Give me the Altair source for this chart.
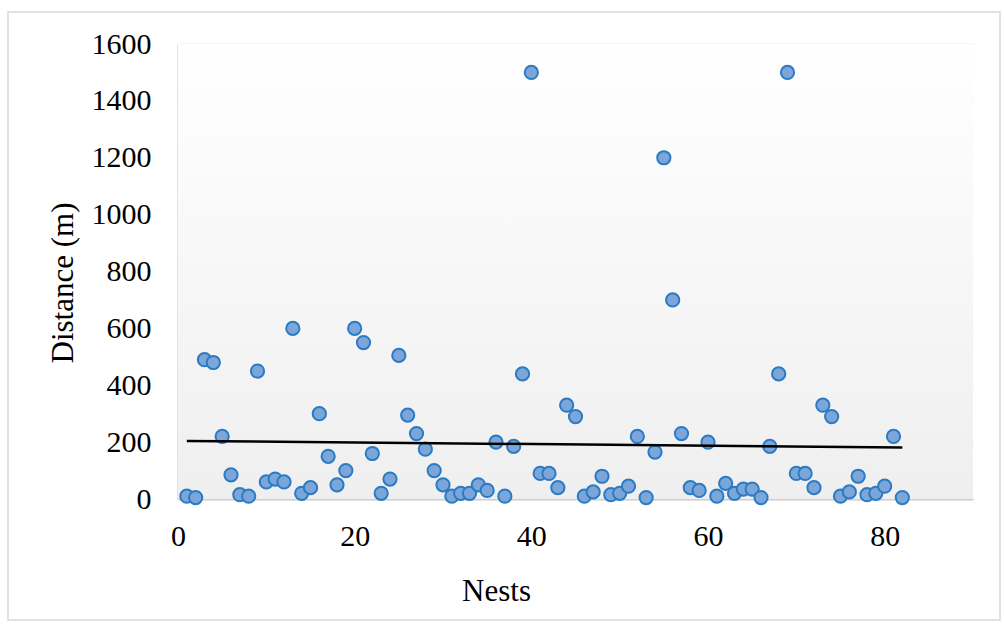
import altair as alt
import pandas as pd

nests = list(range(1, 83))
distance = [
    10, 5, 490, 480, 220, 85, 15, 10, 450, 60,
    70, 60, 600, 20, 40, 300, 150, 50, 100, 600,
    550, 160, 20, 70, 505, 295, 230, 175, 100, 50,
    10, 20, 20, 50, 30, 200, 10, 185, 440, 1500,
    90, 90, 40, 330, 290, 10, 25, 80, 15, 20,
    45, 220, 5, 165, 1200, 700, 230, 40, 30, 200,
    10, 55, 20, 35, 35, 5, 185, 440, 1500, 90,
    90, 40, 330, 290, 10, 25, 80, 15, 20, 45,
    220, 5,
]
x_ticks = [0, 20, 40, 60, 80]
y_ticks = [0, 200, 400, 600, 800, 1000, 1200, 1400, 1600]

df = pd.DataFrame({"Nests": nests, "Distance": distance})

W, H = 795, 455
FONT = "Liberation Serif"

xs = alt.X("Nests:Q", scale=alt.Scale(domain=[0, 90], nice=False),
           axis=alt.Axis(values=x_ticks, title="Nests", grid=True, format="d",
                         labelFlush=False, titleX=318))
ys = alt.Y("Distance:Q", scale=alt.Scale(domain=[0, 1600], nice=False),
           axis=alt.Axis(values=y_ticks, title="Distance (m)", grid=True, format="d",
                         labelFlush=False, titleY=H / 2 + 11))

bg = alt.Chart(pd.DataFrame({"a": [0]})).mark_rect(
    fill=alt.Gradient(gradient="linear", x1=0, x2=0, y1=0, y2=1,
                      stops=[alt.GradientStop(color="#ffffff", offset=0),
                             alt.GradientStop(color="#efefef", offset=1)])
).encode(x=alt.value(0), x2=alt.value(W), y=alt.value(0), y2=alt.value(H))

border = alt.Chart(pd.DataFrame({"a": [0]})).mark_rect(
    fill=None, stroke="#d9d9d9", strokeWidth=1.5
).encode(x=alt.value(-170), x2=alt.value(W + 27), y=alt.value(-32), y2=alt.value(H + 121))

points = alt.Chart(df).mark_point(
    filled=True, shape="circle", size=175, fill="#7ca6da", stroke="#2a7bc3",
    strokeWidth=2, opacity=1, fillOpacity=1
).encode(x=xs, y=ys)

trend = alt.Chart(df).transform_regression(
    "Nests", "Distance", extent=[1, 82]
).mark_line(color="#000000", strokeWidth=2.5).encode(x=xs, y=ys)

chart = alt.layer(bg, border, points, trend).properties(
    width=W, height=H,
    autosize=alt.AutoSizeParams(type="none"),
    padding={"left": 178, "top": 44, "right": 31, "bottom": 125},
    background="#ffffff",
).configure_view(stroke=None).configure_axis(
    labelFont=FONT, titleFont=FONT, labelFontSize=30, titleFontSize=31,
    labelColor="#000000", titleColor="#000000", titleFontWeight="normal",
    gridColor="#d9d9d9", gridWidth=1.5, domainColor="#cfcfcf", domainWidth=2,
    ticks=False,
).configure_axisX(labelPadding=22, titlePadding=25).configure_axisY(
    labelPadding=27, titlePadding=12, domain=True)

chart.save("out.html", embed_options={"renderer": "svg", "actions": False})
